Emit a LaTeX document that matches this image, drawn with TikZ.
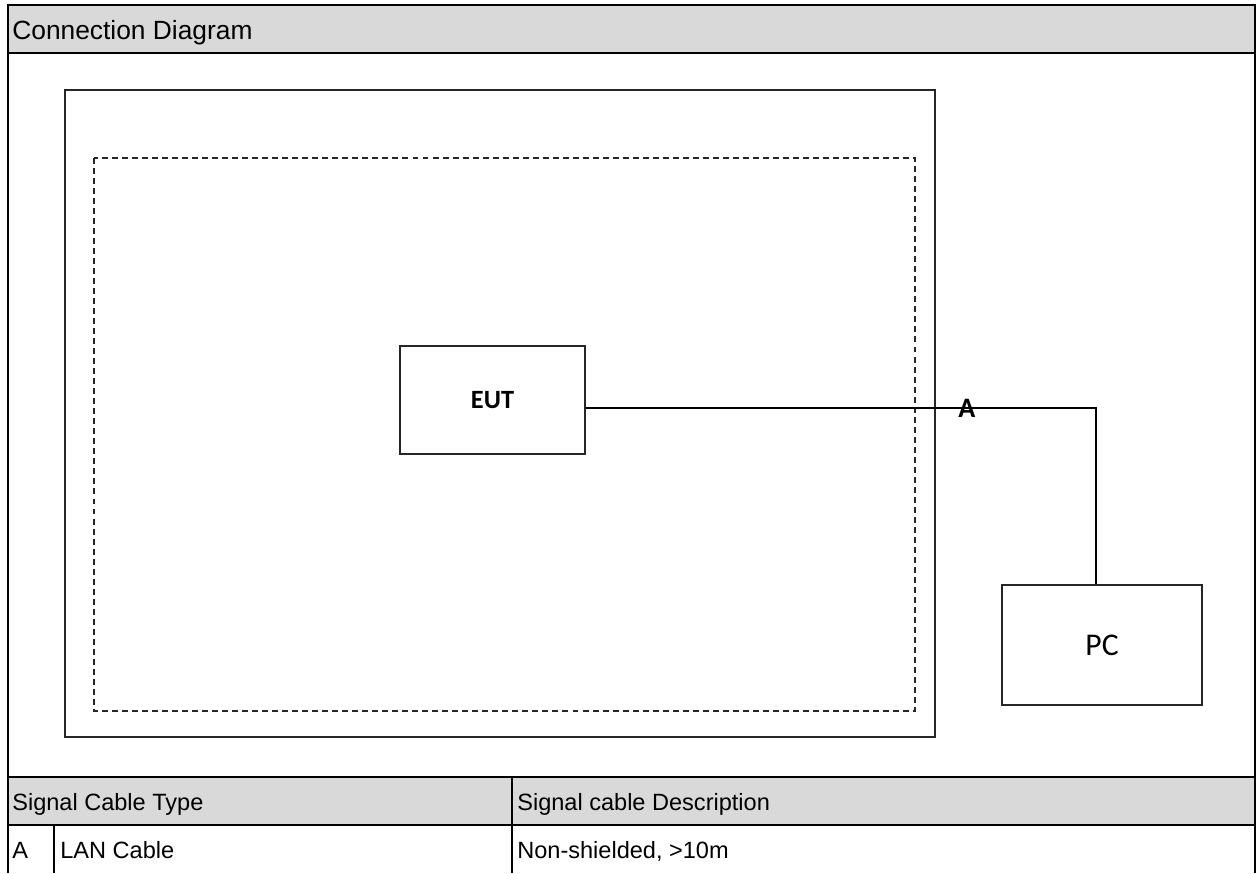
\documentclass[tikz,border=0pt]{standalone}
\usepackage{fontspec}
\setmainfont{Liberation Sans}
\newfontfamily\calibri{Carlito}
\usetikzlibrary{calc}
\definecolor{headgray}{RGB}{217,217,217}
\tikzset{
  tabline/.style={line width=1.5pt},
  unitbox/.style={draw=black!85, line width=1.1pt, rectangle, inner sep=0pt},
  cable/.style={line width=0.9pt},
  shieldroom/.style={draw=black!85, line width=1.3pt},
  testzone/.style={draw=black!85, line width=0.9pt, dash pattern=on 3.4pt off 2.3pt},
  celltext/.style={anchor=base west, inner sep=0pt, font=\fontsize{13.4pt}{16pt}\selectfont},
}

\begin{document}
\begin{tikzpicture}[x=0.02cm, y=-0.02cm]
  %%%%% START %%%%%
  \useasboundingbox (0,0) rectangle (1260,873);

  % table frame
  \fill[headgray] (8,5) rectangle (1255,53);
  \fill[headgray] (8,777) rectangle (1255,825);
  \draw[tabline] (8,873) -- (8,5) -- (1255,5) -- (1255,873);
  \draw[tabline] (8,53) -- (1255,53);
  \draw[tabline] (8,777) -- (1255,777);
  \draw[tabline] (8,825) -- (1255,825);
  \draw[tabline] (512,777) -- (512,873);
  \draw[tabline] (54,825) -- (54,873);

  \node[anchor=base west, inner sep=0pt, font=\fontsize{15pt}{18pt}\selectfont] (title) at (12,39) {Connection Diagram};
  \node[celltext] (typehead) at (12,810) {Signal Cable Type};
  \node[celltext] (deschead) at (517,810) {Signal cable Description};
  \node[celltext] (cableid) at (12,858) {A};
  \node[celltext] (cabletype) at (60,858) {LAN Cable};
  \node[celltext] (cabledesc) at (517,858) {Non-shielded, >10m};

  % test site
  \draw[shieldroom] (65,90) rectangle (935,737);
  \draw[testzone] (94,158) rectangle (915,711);

  \node[unitbox, minimum width=3.7cm, minimum height=2.16cm,
        font=\calibri\bfseries\fontsize{15pt}{18pt}\selectfont] (eut) at (492.5,400) {EUT};
  \node[unitbox, minimum width=4cm, minimum height=2.4cm,
        font=\calibri\fontsize{18pt}{21pt}\selectfont] (pc) at (1102,645) {PC};

  \coordinate (eutport) at ($(eut.east)+(0,8)$);
  \coordinate (pcport) at ($(pc.north)+(-6,0)$);
  \draw[cable] (eutport) -| (pcport);
  \node[inner sep=0pt, font=\calibri\bfseries\fontsize{16pt}{19pt}\selectfont] (cablea) at (967,408) {A};
  %%%%% END %%%%%
\end{tikzpicture}
\end{document}
